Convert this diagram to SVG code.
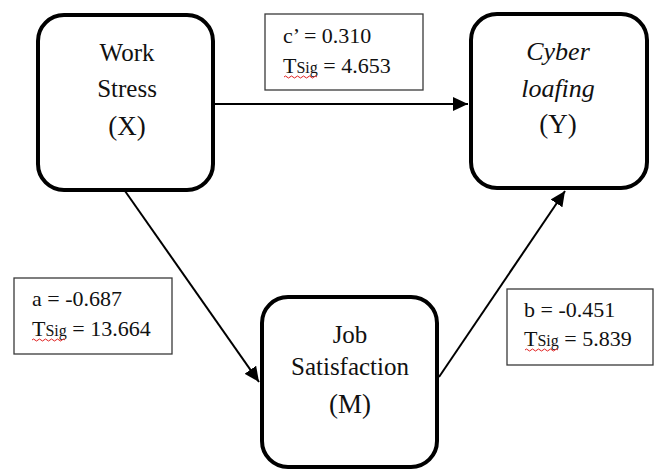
<svg xmlns="http://www.w3.org/2000/svg" width="654" height="470" viewBox="0 0 654 470">
<style>
  .node { fill: #fff; stroke: #000; stroke-width: 4; }
  .lbl { fill: #fff; stroke: #3a3a3a; stroke-width: 1.3; }
  text { font-family: 'Liberation Serif', 'Times New Roman', serif; }
  .t { fill: #111; text-anchor: middle; }
  .big { font-size: 25px; }
  .par { font-size: 27px; }
  .it { font-style: italic; font-size: 26px; }
  .lt { fill: #111; font-size: 22px; }
  .sub { font-size: 16px; }
  .conn { stroke: #000; stroke-width: 2; fill: none; marker-end: url(#arr); }
  .sq { stroke: #e02020; stroke-width: 1; fill: none; }
</style>
<defs>
  <marker id="arr" markerUnits="userSpaceOnUse" markerWidth="16" markerHeight="14" refX="15" refY="7" orient="auto">
    <path d="M0,0 L15,7 L0,14 Z" fill="#000"/>
  </marker>
</defs>

<g id="connectors">
  <line class="conn" x1="215" y1="104" x2="468" y2="104"/>
  <line class="conn" x1="125" y1="191" x2="259" y2="382"/>
  <line class="conn" x1="439" y1="377" x2="565" y2="191"/>
</g>

<g id="work-stress">
  <rect class="node" x="38" y="15" width="175" height="175" rx="26"/>
  <text class="t big" x="127" y="61">Work</text>
  <text class="t big" x="127" y="97">Stress</text>
  <text class="t par" x="127" y="135">(X)</text>
</g>

<g id="cyber-loafing">
  <rect class="node" x="471" y="14" width="176" height="174" rx="26"/>
  <text class="t it" x="558" y="60">Cyber</text>
  <text class="t it" x="558" y="97">loafing</text>
  <text class="t par" x="558" y="133">(Y)</text>
</g>

<g id="job-satisfaction">
  <rect class="node" x="262" y="297" width="175" height="170" rx="26"/>
  <text class="t big" x="350" y="343">Job</text>
  <text class="t big" x="350" y="375">Satisfaction</text>
  <text class="t par" x="350" y="413">(M)</text>
</g>

<g id="label-c">
  <rect class="lbl" x="265" y="14" width="158" height="76"/>
  <text class="lt" x="283" y="43">c’ = 0.310</text>
  <text class="lt" x="283" y="73">T<tspan class="sub">Sig</tspan> = 4.653</text>
  <path class="sq" d="M284,77 q1.5,-2 3,0 t3,0 t3,0 t3,0 t3,0 t3,0 t3,0 t3,0 t3,0 t3,0 t3,0"/>
</g>

<g id="label-a">
  <rect class="lbl" x="14" y="278" width="158" height="76"/>
  <text class="lt" x="32" y="306">a = -0.687</text>
  <text class="lt" x="32" y="336">T<tspan class="sub">Sig</tspan> = 13.664</text>
  <path class="sq" d="M32,340 q1.5,-2 3,0 t3,0 t3,0 t3,0 t3,0 t3,0 t3,0 t3,0 t3,0 t3,0 t3,0"/>
</g>

<g id="label-b">
  <rect class="lbl" x="507" y="289" width="146" height="76"/>
  <text class="lt" x="524" y="317">b = -0.451</text>
  <text class="lt" x="524" y="346">T<tspan class="sub">Sig</tspan> = 5.839</text>
  <path class="sq" d="M525,350 q1.5,-2 3,0 t3,0 t3,0 t3,0 t3,0 t3,0 t3,0 t3,0 t3,0 t3,0 t3,0"/>
</g>
</svg>
